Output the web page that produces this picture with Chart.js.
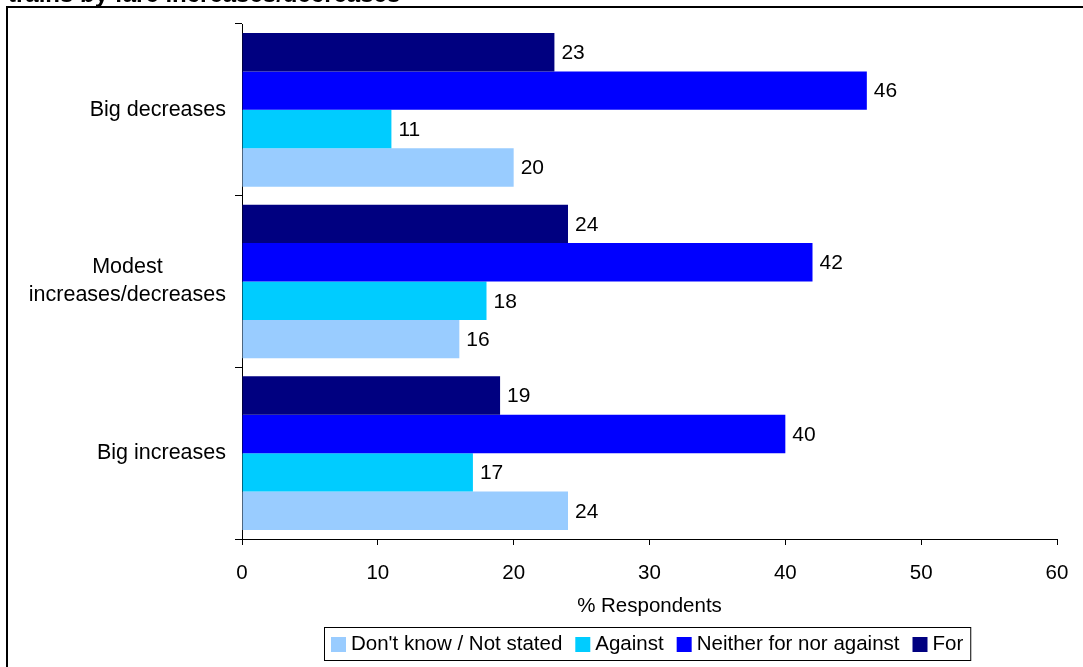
<!DOCTYPE html>
<html>
<head>
<meta charset="utf-8">
<title>Support for trains by fare increases/decreases</title>
<script src="https://cdn.jsdelivr.net/npm/chart.js@4/dist/chart.umd.min.js"></script>
<style>
  html, body { margin: 0; padding: 0; background: #fff; }
  canvas { display: block; }
</style>
</head>
<body>
<canvas id="chart" width="1083" height="667"></canvas>
<script>
// Categories, top to bottom
const categories = ['Big decreases', ['Modest', 'increases/decreases'], 'Big increases'];

// Responses per category (% respondents)
const forValues     = [23, 24, 19];
const neitherValues = [46, 42, 40];
const againstValues = [11, 18, 17];
const dontKnowValues = [20, 16, 24];

const seriesNames  = ['For', 'Neither for nor against', 'Against', "Don't know / Not stated"];
const seriesColors = ['#000080', '#0000FF', '#00CCFF', '#99CCFF'];

const xTicks = [0, 10, 20, 30, 40, 50, 60];

const FONT = '"Liberation Sans", Arial, sans-serif';

const seriesValues = [forValues, neitherValues, againstValues, dontKnowValues];
const datasets = seriesNames.map((name, i) => ({
  label: name,
  data: seriesValues[i],
  backgroundColor: seriesColors[i],
  borderWidth: 0,
  categoryPercentage: 0.895,
  barPercentage: 1.0
}));

// Frame and cut-off heading
const framePlugin = {
  id: 'frame',
  beforeDraw(chart) {
    const ctx = chart.ctx;
    ctx.save();
    ctx.fillStyle = '#fff';
    ctx.fillRect(0, 0, chart.width, chart.height);
    ctx.strokeStyle = '#000';
    ctx.lineWidth = 2;
    ctx.beginPath();
    ctx.moveTo(7, chart.height + 5);
    ctx.lineTo(7, 7);
    ctx.lineTo(chart.width + 5, 7);
    ctx.stroke();
    ctx.fillStyle = '#000';
    ctx.font = 'bold 24px ' + FONT;
    ctx.textBaseline = 'alphabetic';
    ctx.textAlign = 'left';
    ctx.fillText('trains by fare increases/decreases', 8, 1.5);
    ctx.restore();
  }
};

// Category labels: block right-aligned to the axis, lines centred within the block
const categoryLabelPlugin = {
  id: 'categoryLabels',
  afterDraw(chart) {
    const ctx = chart.ctx;
    const y = chart.scales.y;
    const rightEdge = y.right - 16;
    const lineH = 28;
    ctx.save();
    ctx.fillStyle = '#000';
    ctx.font = '21.5px ' + FONT;
    ctx.textBaseline = 'middle';
    ctx.textAlign = 'center';
    chart.data.labels.forEach((lab, i) => {
      const lines = Array.isArray(lab) ? lab : [lab];
      const w = Math.max(...lines.map(l => ctx.measureText(l).width));
      const cx = rightEdge - w / 2;
      const cy = y.getPixelForValue(i);
      lines.forEach((l, k) => {
        ctx.fillText(l, cx, cy + (k - (lines.length - 1) / 2) * lineH);
      });
    });
    ctx.restore();
  }
};

// Value labels at the end of each bar
const valueLabelPlugin = {
  id: 'valueLabels',
  afterDatasetsDraw(chart) {
    const ctx = chart.ctx;
    ctx.save();
    ctx.fillStyle = '#000';
    ctx.font = '21px ' + FONT;
    ctx.textBaseline = 'middle';
    ctx.textAlign = 'left';
    chart.data.datasets.forEach((ds, di) => {
      const meta = chart.getDatasetMeta(di);
      meta.data.forEach((bar, i) => {
        ctx.fillText(String(ds.data[i]), bar.x + 7, bar.y + 1);
      });
    });
    ctx.restore();
  }
};

// Boxed legend below the axis title, in reverse dataset order
const boxedLegendPlugin = {
  id: 'boxedLegend',
  afterDraw(chart) {
    const ctx = chart.ctx;
    ctx.save();
    ctx.font = '20.5px ' + FONT;
    ctx.textBaseline = 'middle';
    ctx.textAlign = 'left';
    const sw = 15, gapBoxText = 5, gapItems = 13;
    const items = chart.data.datasets.map(d => ({ label: d.label, color: d.backgroundColor })).reverse();
    const left = 324, top = 627, height = 33;
    let x = left + 7;
    const cy = top + height / 2 + 1;
    items.forEach((it, i) => {
      ctx.fillStyle = it.color;
      ctx.fillRect(x, cy - 7.5, sw, sw);
      x += sw + gapBoxText;
      ctx.fillStyle = '#000';
      ctx.fillText(it.label, x, cy);
      x += ctx.measureText(it.label).width;
      if (i < items.length - 1) x += gapItems;
    });
    const right = x + 7;
    ctx.strokeStyle = '#000';
    ctx.lineWidth = 1;
    ctx.strokeRect(left + 0.5, top + 0.5, right - left, height);
    ctx.restore();
  }
};

new Chart(document.getElementById('chart'), {
  type: 'bar',
  data: { labels: categories, datasets },
  options: {
    indexAxis: 'y',
    responsive: false,
    devicePixelRatio: 1,
    animation: false,
    layout: { padding: { top: 24, right: 26, bottom: 0, left: 0 } },
    plugins: {
      legend: { display: false },
      tooltip: { enabled: false },
      title: { display: false }
    },
    scales: {
      y: {
        type: 'category',
        grid: { offset: true, drawOnChartArea: false, tickLength: 7, color: '#000', lineWidth: 1 },
        border: { color: '#000', width: 1 },
        ticks: { display: false },
        afterFit(scale) { scale.width = 242; }
      },
      x: {
        min: 0,
        max: 60,
        afterBuildTicks(scale) { scale.ticks = xTicks.map(v => ({ value: v })); },
        grid: { drawOnChartArea: false, tickLength: 6, color: '#000', lineWidth: 1 },
        border: { color: '#000', width: 1 },
        ticks: { color: '#000', font: { family: FONT, size: 20.5 }, padding: 16 },
        title: {
          display: true,
          text: '% Respondents',
          color: '#000',
          font: { family: FONT, size: 20.5 },
          padding: { top: 0, bottom: 48 }
        },
        afterFit(scale) {
          scale.height = 128;
          scale.paddingLeft = 0;
          scale.paddingRight = 0;
        }
      }
    }
  },
  plugins: [framePlugin, categoryLabelPlugin, valueLabelPlugin, boxedLegendPlugin]
});
</script>
</body>
</html>
